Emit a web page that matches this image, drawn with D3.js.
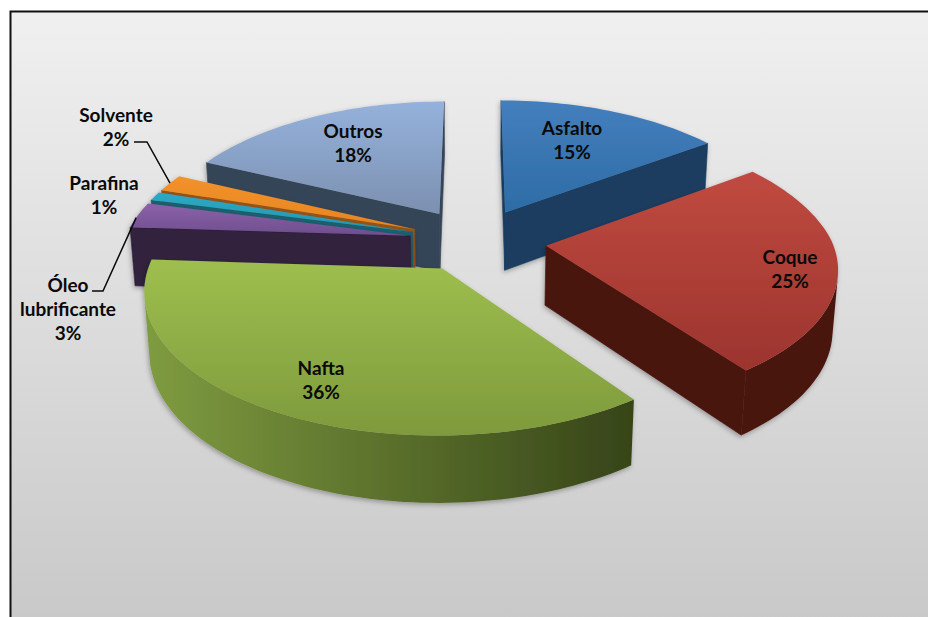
<!DOCTYPE html>
<html lang="pt">
<head>
<meta charset="utf-8">
<title>Derivados de petróleo</title>
<script src="https://cdn.jsdelivr.net/npm/d3@7/dist/d3.min.js"></script>
<style>
  html, body { margin: 0; padding: 0; background: #fff; overflow: hidden; }
  text { font-family: Lato, "Open Sans", sans-serif; font-weight: 700; font-size: 19px; fill: #0a0a0a; }
</style>
</head>
<body>
<svg id="chart" width="928" height="617"></svg>
<script>
// Product shares, clockwise from twelve o'clock
const products = ["Asfalto", "Coque", "Nafta", "Óleo lubrificante", "Parafina", "Solvente", "Outros"];
const shares = [15, 25, 36, 3, 1, 2, 18];

// How far each slice is pulled out of the pie
const pullOut = [0.24, 0.25, 0.23, 0.23, 0.23, 0.23, 0.24];

// Face colours per product: top gradient (far, near), walls (light, dark)
const topFar = ["#447fbd", "#c04a40", "#9ebf4f", "#8c62a8", "#2ba9c6", "#f2922c", "#95b2dc"];
const topNear = ["#2d6ca6", "#9c342e", "#7e9a3c", "#6e4e8e", "#2596b0", "#e8841f", "#7c90b0"];
const wallLight = ["#224b73", "#4a1410", "#7f9c40", "#33213f", "#1c6c7e", "#a8601a", "#3d4c60"];
const wallDark = ["#1a3d60", "#4a1410", "#364418", "#31203c", "#1a6070", "#96541a", "#364558"];

const svg = d3.select("#chart");
const defs = svg.append("defs");

// Perspective parameters of the tilted pie
const camera = { cx: 475, cy: 240.5, ax: 286, ay: 135, persp: 0.14, farNarrow: 0.02, depth: 60, sink: 0.015 };

// Ground-plane point (x right, y away from the viewer) to screen, level 0 = top, 1 = bottom
function project(x, y, level) {
  const w = 1 + camera.persp * y + camera.sink * level;
  const wx = w + camera.farNarrow * Math.max(0, y);
  return [
    camera.cx + camera.ax * x / wx,
    camera.cy - (camera.ay * y - camera.depth * level) / w
  ];
}

const pieLayout = d3.pie().sort(null).startAngle(0).endAngle(2 * Math.PI);
const arcs = pieLayout(shares).map((d, i) => {
  const mid = (d.startAngle + d.endAngle) / 2;
  return {
    i, start: d.startAngle, end: d.endAngle,
    ox: pullOut[i] * Math.sin(mid),
    oy: pullOut[i] * Math.cos(mid)
  };
});

// Position on a slice rim at angle a and radius r
const rim = (s, a, r, level) =>
  project(s.ox + r * Math.sin(a), s.oy + r * Math.cos(a), level);

const line = d3.line();

// Page background and chart frame
const bg = defs.append("linearGradient").attr("id", "bg")
  .attr("x1", 0).attr("y1", 0).attr("x2", 0).attr("y2", 1);
bg.append("stop").attr("offset", 0).attr("stop-color", "#f0f0f0");
bg.append("stop").attr("offset", 1).attr("stop-color", "#c9c9c9");
svg.append("rect").attr("x", 10).attr("y", 11).attr("width", 918).attr("height", 606).attr("fill", "url(#bg)");
svg.append("path").attr("d", "M10.5,617V11.5H928").attr("fill", "none").attr("stroke", "#111").attr("stroke-width", 2);

// Soft shadow cast by each slice
const shadow = defs.append("filter").attr("id", "shadow")
  .attr("x", "-10%").attr("y", "-10%").attr("width", "120%").attr("height", "125%");
shadow.append("feDropShadow").attr("dx", -1).attr("dy", 2).attr("stdDeviation", 2.5)
  .attr("flood-color", "#000").attr("flood-opacity", 0.3);

const soft = defs.append("filter").attr("id", "soft");
soft.append("feGaussianBlur").attr("stdDeviation", 0.5);

// Painter's order, far slices first
const order = ["Outros", "Asfalto", "Solvente", "Parafina", "Óleo lubrificante", "Coque", "Nafta"];

order.forEach(name => {
  const s = arcs[products.indexOf(name)];
  const g = svg.append("g").attr("filter", "url(#shadow)");
  const inner = g.append("g").attr("filter", "url(#soft)");

  const steps = Math.max(4, Math.ceil((s.end - s.start) / (Math.PI / 120)));
  const angles = d3.range(steps + 1).map(k => s.start + (s.end - s.start) * k / steps);

  // Radial walls that face the viewer
  [s.start, s.end].forEach(a => {
    const quad = [rim(s, a, 0, 0), rim(s, a, 1, 0), rim(s, a, 1, 1), rim(s, a, 0, 1)];
    const area = d3.polygonArea(quad);
    if (a === s.start ? area > 0 : area < 0) {
      inner.append("path").attr("d", line(quad) + "Z")
        .attr("fill", wallDark[s.i]).attr("stroke", wallDark[s.i]).attr("stroke-width", 0.6);
    }
  });

  // Outer wall: the stretch of rim that faces the viewer, shaded left to right
  const facing = d3.range(steps).filter(k => d3.polygonArea([
    rim(s, angles[k], 1, 0), rim(s, angles[k + 1], 1, 0),
    rim(s, angles[k + 1], 1, 1), rim(s, angles[k], 1, 1)
  ]) > 0);
  if (facing.length) {
    const wallAngles = [...facing.map(k => angles[k]), angles[facing[facing.length - 1] + 1]];
    const wall = [
      ...wallAngles.map(a => rim(s, a, 1, 0)),
      ...wallAngles.slice().reverse().map(a => rim(s, a, 1, 1))
    ];
    const [xMin, xMax] = d3.extent(wall, p => p[0]);
    const wallGrad = defs.append("linearGradient").attr("id", "wall" + s.i)
      .attr("gradientUnits", "userSpaceOnUse")
      .attr("x1", xMin).attr("x2", xMax).attr("y1", 0).attr("y2", 0);
    wallGrad.append("stop").attr("offset", 0).attr("stop-color", wallLight[s.i]);
    wallGrad.append("stop").attr("offset", 1).attr("stop-color", wallDark[s.i]);
    inner.append("path").attr("d", line(wall) + "Z").attr("fill", "url(#wall" + s.i + ")");
  }

  // Top face
  const face = [rim(s, s.start, 0, 0), ...angles.map(a => rim(s, a, 1, 0))];
  const ys = face.map(p => p[1]);
  const grad = defs.append("linearGradient").attr("id", "top" + s.i).attr("gradientUnits", "userSpaceOnUse")
    .attr("x1", 0).attr("x2", 0).attr("y1", d3.min(ys)).attr("y2", d3.max(ys));
  grad.append("stop").attr("offset", 0).attr("stop-color", topFar[s.i]);
  grad.append("stop").attr("offset", 1).attr("stop-color", topNear[s.i]);
  inner.append("path").attr("d", line(face) + "Z").attr("fill", "url(#top" + s.i + ")");
});

// Leader lines for the narrow slices: the tip sits on the rim, part way along the slice
const leaderLabels = {
  "Solvente": { elbow: [[134, 142], [147, 142]], along: 0.5 },
  "Óleo lubrificante": { elbow: [[92, 291], [103, 291]], along: 0.4 }
};
Object.entries(leaderLabels).forEach(([name, l]) => {
  const s = arcs[products.indexOf(name)];
  const tip = rim(s, s.start + (s.end - s.start) * l.along, 1, 0);
  svg.append("path").attr("d", line([...l.elbow, tip]))
    .attr("fill", "none").attr("stroke", "#0a0a0a").attr("stroke-width", 1.5);
});

// Slice labels: name lines followed by the share
const labelSpots = [
  { name: "Asfalto", lines: ["Asfalto"], x: 572, y: 127 },
  { name: "Coque", lines: ["Coque"], x: 790, y: 256 },
  { name: "Nafta", lines: ["Nafta"], x: 321, y: 367 },
  { name: "Óleo lubrificante", lines: ["Óleo", "lubrificante"], x: 68, y: 284 },
  { name: "Parafina", lines: ["Parafina"], x: 104, y: 182 },
  { name: "Solvente", lines: ["Solvente"], x: 116, y: 114 },
  { name: "Outros", lines: ["Outros"], x: 353, y: 130 }
];
labelSpots.forEach(l => {
  const rows = [...l.lines, shares[products.indexOf(l.name)] + "%"];
  rows.forEach((row, k) => {
    svg.append("text").attr("x", l.x).attr("y", l.y + k * 24)
      .attr("text-anchor", "middle").attr("dominant-baseline", "central").text(row);
  });
});
</script>
</body>
</html>
